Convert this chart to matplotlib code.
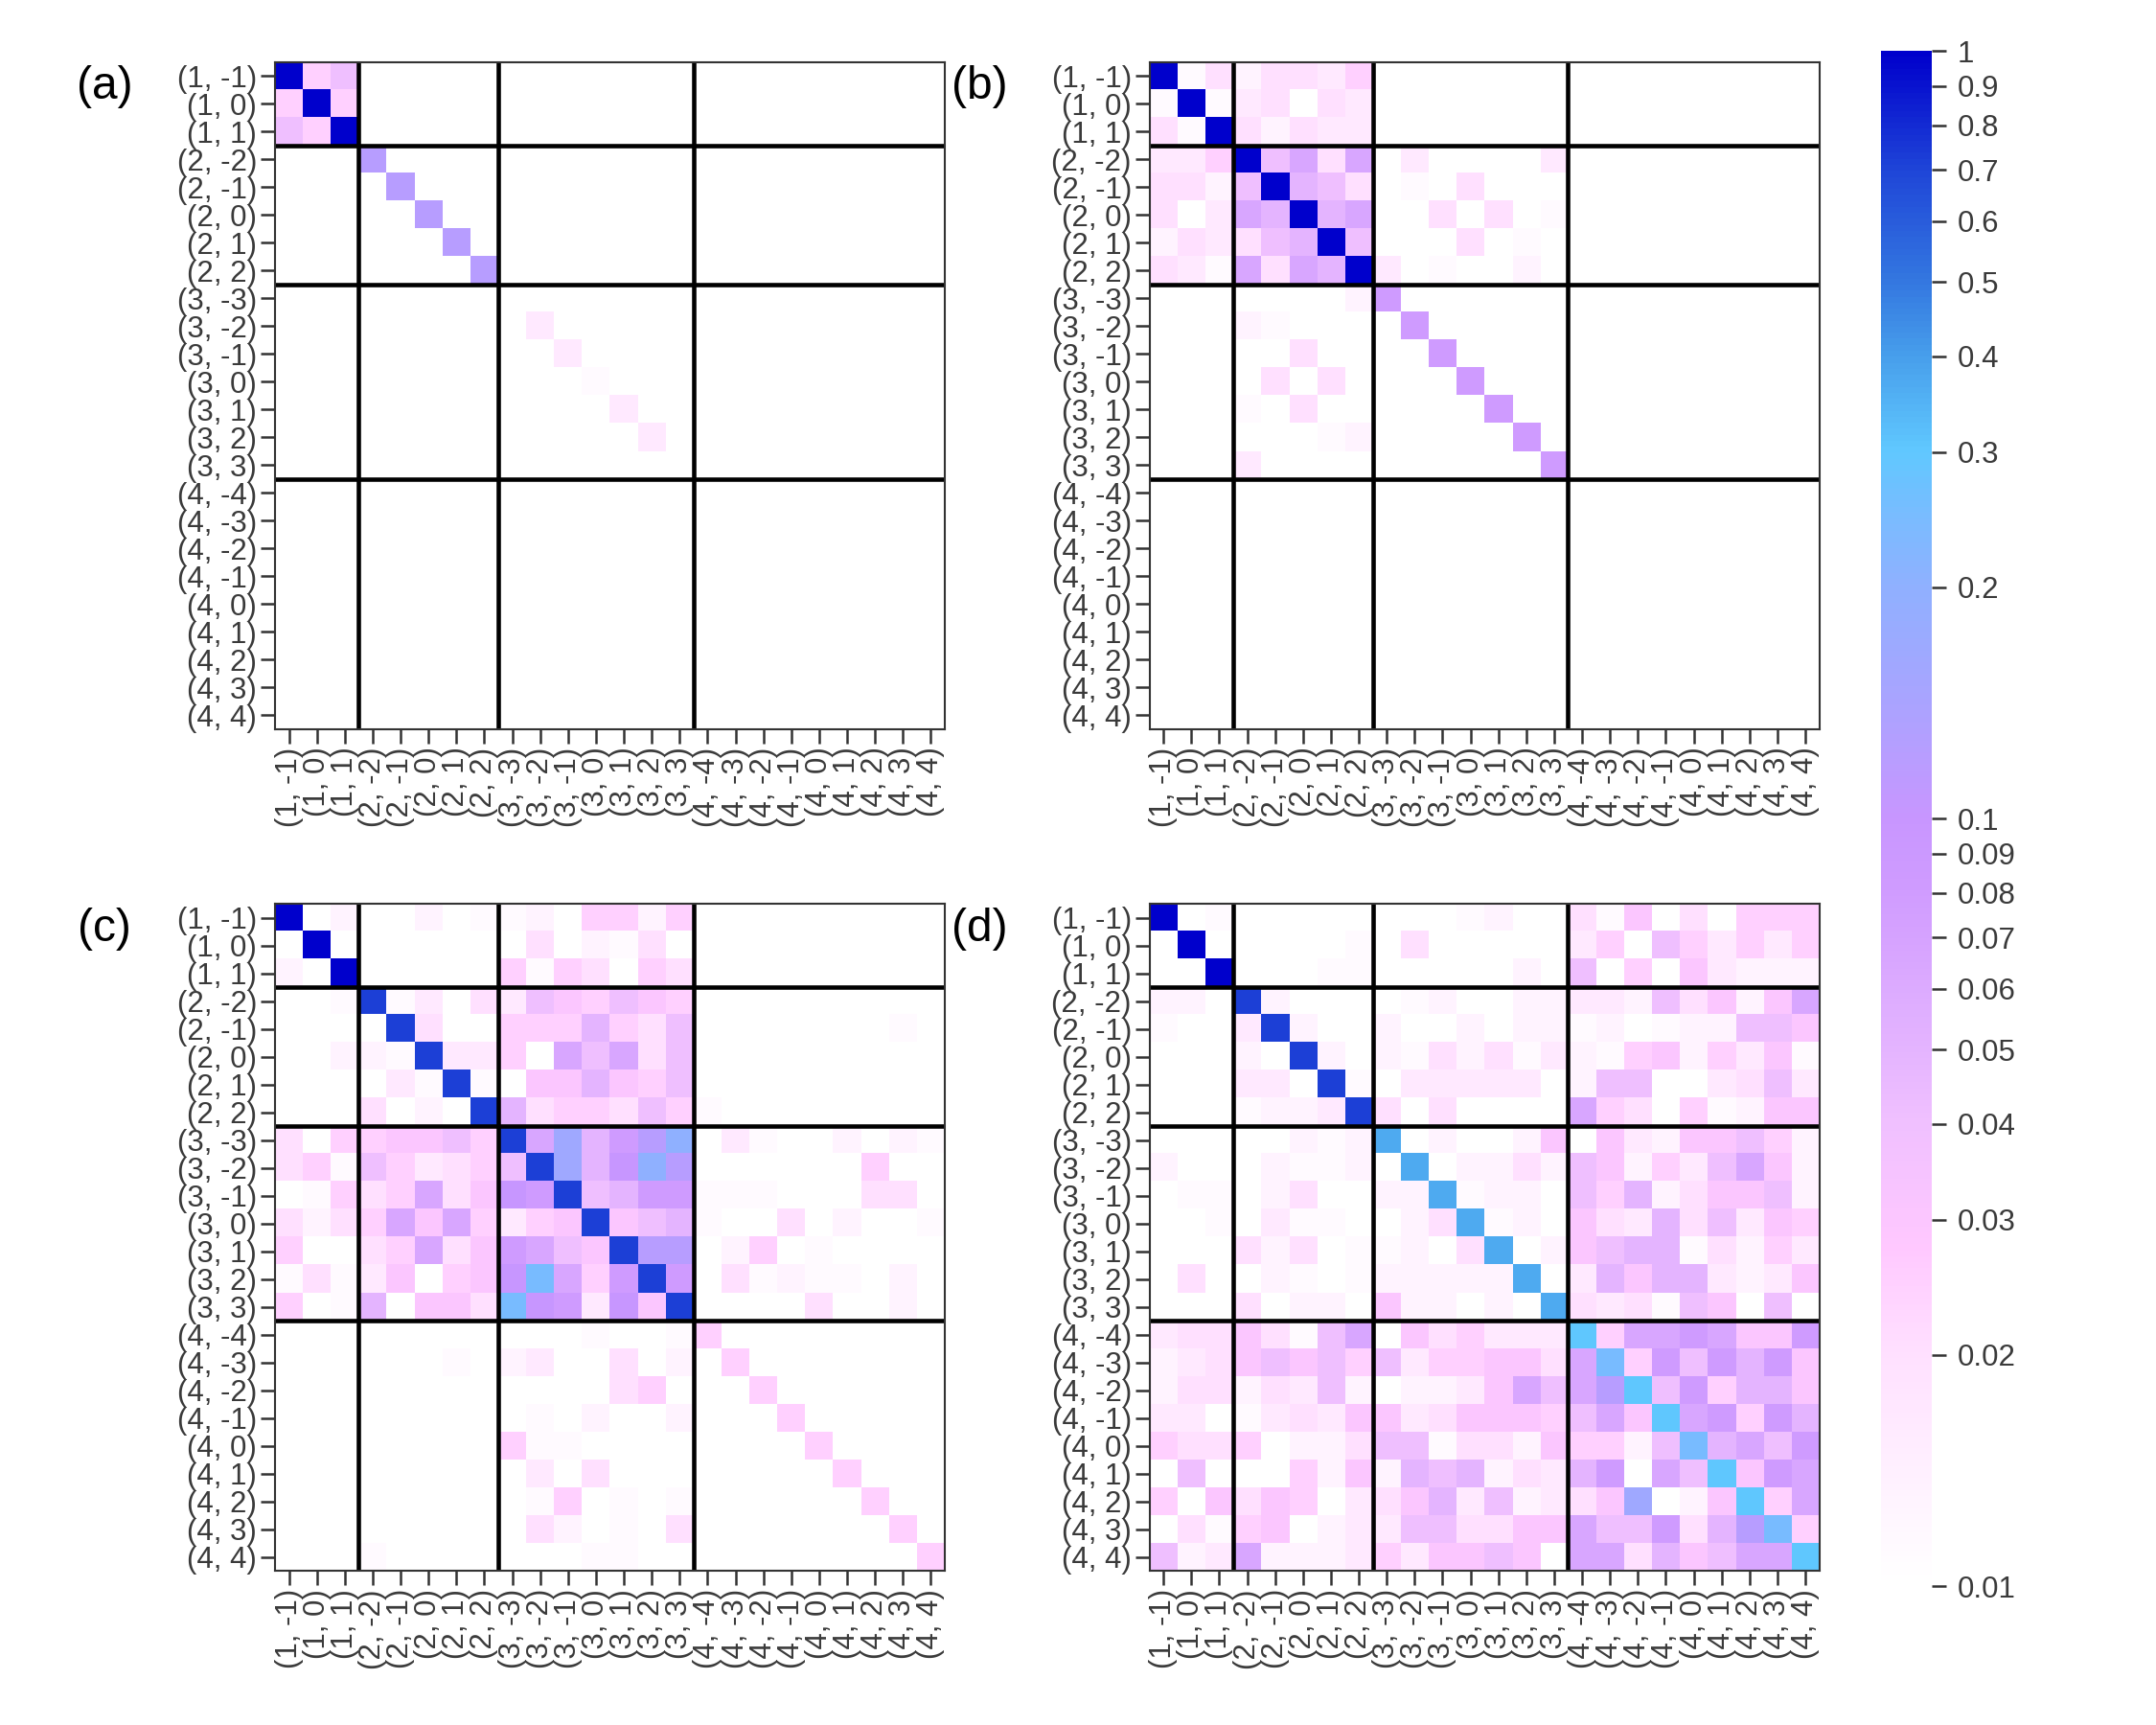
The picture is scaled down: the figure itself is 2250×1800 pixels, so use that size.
import numpy as np
import matplotlib
matplotlib.use("Agg")
import matplotlib.pyplot as plt
from matplotlib.colors import LinearSegmentedColormap, LogNorm

plt.rcParams['font.family'] = ['Liberation Sans', 'DejaVu Sans']

# (l, m) basis labels, same on both axes
labels = ["(1, -1)", "(1, 0)", "(1, 1)",
          "(2, -2)", "(2, -1)", "(2, 0)", "(2, 1)", "(2, 2)",
          "(3, -3)", "(3, -2)", "(3, -1)", "(3, 0)", "(3, 1)", "(3, 2)", "(3, 3)",
          "(4, -4)", "(4, -3)", "(4, -2)", "(4, -1)", "(4, 0)", "(4, 1)", "(4, 2)", "(4, 3)", "(4, 4)"]

# shade code -> value ('.' = below 0.01, left blank)
shade = {'.': 0.0, '0': 0.011, '1': 0.013, '2': 0.016, '3': 0.02, '4': 0.025,
         '5': 0.03, '6': 0.04, '7': 0.05, '8': 0.065, '9': 0.08, 'a': 0.1,
         'b': 0.12, 'c': 0.16, 'd': 0.2, 'e': 0.25, 'E': 0.3, 'f': 0.37,
         'g': 0.5, 'h': 0.72, 'j': 1.0}

blank = "... ..... ....... ........."

panel_a = [
    "j46 ..... ....... .........",
    "4j4 ..... ....... .........",
    "64j ..... ....... .........",
    "... b.... ....... .........",
    "... .b... ....... .........",
    "... ..b.. ....... .........",
    "... ...b. ....... .........",
    "... ....b ....... .........",
    "... ..... ....... .........",
    "... ..... .2..... .........",
    "... ..... ..2.... .........",
    "... ..... ...0... .........",
    "... ..... ....2.. .........",
    "... ..... .....2. .........",
    blank, blank, blank, blank, blank, blank, blank, blank, blank, blank,
]

panel_b = [
    "j03 13324 ....... .........",
    "0j0 23.32 ....... .........",
    "30j 31322 ....... .........",
    "224 j6838 .2....2 .........",
    "331 6j763 .0.3... .........",
    "3.2 87j78 ..3.3.0 .........",
    "132 367j6 ...3.0. .........",
    "320 8387j 2.0..1. .........",
    "... ....1 9...... .........",
    "... 10... .9..... .........",
    "... ..3.. ..9.... .........",
    "... .3.3. ...9... .........",
    "... 0.3.. ....9.. .........",
    "... ...01 .....9. .........",
    "... 2.... ......9 .........",
    blank, blank, blank, blank, blank, blank, blank, blank, blank,
]

panel_c = [
    "j.1 ..1.0 01.4414 .........",
    ".j. ..... .3.103. .........",
    "1.j ..... 4043.43 .........",
    "..0 h02.3 2654654 .........",
    "... .h3.. 4447436 .......0.",
    "..1 10h22 4.86836 .........",
    "... .20h0 .557546 .........",
    "... 3.1.h 7344364 0........",
    "3.4 45564 h8c79bd .20..1.10",
    "340 64234 6hc7adb ......4..",
    ".04 34835 a9h6799 000...33.",
    "313 48584 245h567 0..3.1..0",
    "4.. 34835 9865hbb .14.0....",
    "030 25.45 ae849h9 .30100.1.",
    "4.0 7.553 ea92a5h ....3..1.",
    "... ..... ...0..0 4........",
    "... ...0. 12..3.1 .4.......",
    "... ..... ....34. ..4......",
    "... ..... .0.1..1 ...4.....",
    "... ..... 400.... ....4....",
    "... ..... .2.3... .....4...",
    "... ..... .04.0.0 ......4..",
    "... ..... .31.0.3 .......4.",
    "... 0.... ...00.. ........4",
]

panel_d = [
    "j.0 ..... ...01.. 305.3.444",
    ".j. ....0 .3..... 24.642424",
    "..j ...00 .....1. 6.4.52111",
    "11. h1... .01..11 221635158",
    "0.. 2h1.. 1..1.11 01.011665",
    "... 1.h1. 1031302 104514250",
    "... 22.h0 .22222. 166..2362",
    "... 0112h 3.3.... 843.40155",
    "... ..101 f.1..15 .52155641",
    "1.. .1001 .f.1131 651426851",
    ".00 .13.. 11f011. 647135561",
    "..0 .200. .13f01. 532736254",
    "... 313.0 01.3f.1 567703142",
    ".3. .10.0 11111f. 275772125",
    "... 3.11. 511.1.f 323065.6.",
    "233 53068 .534222 E48898559",
    "123 56564 6244553 8e4969795",
    "133 13261 .112586 8bE694775",
    "22. 02325 5235554 685E89497",
    "433 4.113 6603315 4416e7869",
    ".6. ..415 1767132 79.86E598",
    "4.5 354.2 3572612 35c.15E48",
    ".30 45.12 2663355 866937be4",
    "612 81112 425565. 88375688E",
]

panels = [("(a)", panel_a), ("(b)", panel_b), ("(c)", panel_c), ("(d)", panel_d)]
block_edges = [2.5, 7.5, 14.5]

cbar_ticks = [0.01, 0.02, 0.03, 0.04, 0.05, 0.06, 0.07, 0.08, 0.09,
              0.1, 0.2, 0.3, 0.4, 0.5, 0.6, 0.7, 0.8, 0.9, 1]
cbar_labels = ["0.01", "0.02", "0.03", "0.04", "0.05", "0.06", "0.07", "0.08", "0.09",
               "0.1", "0.2", "0.3", "0.4", "0.5", "0.6", "0.7", "0.8", "0.9", "1"]

# white -> pink -> purple -> light blue -> dark blue along the log axis
cmap = LinearSegmentedColormap.from_list("wpb", [
    (0.00, "#ffffff"), (0.15, "#ffe0ff"), (0.22, "#ffc8ff"), (0.30, "#f0c0ff"),
    (0.35, "#e4b4ff"), (0.45, "#d09cff"), (0.50, "#c896ff"), (0.58, "#a8a4ff"),
    (0.65, "#90b0ff"), (0.70, "#78bcff"), (0.74, "#60c8ff"), (0.80, "#48a0ec"),
    (0.85, "#3478e0"), (0.92, "#2048d8"), (1.00, "#0000cc")])
cmap.set_bad("white")
cmap.set_under("white")
norm = LogNorm(vmin=0.01, vmax=1)

fig = plt.figure(figsize=(15, 12), dpi=150)

lefts = [0.1276, 0.5332, 0.1276, 0.5332]
bottoms = [0.5774, 0.5774, 0.0893, 0.0893]
w, h = 0.3106, 0.3867

txt_col = "#3a3a3a"
for i, (tag, rows) in enumerate(panels):
    mat = np.array([[shade[ch] for ch in r.replace(" ", "")] for r in rows])
    mat = np.ma.masked_where(mat <= 0, mat)
    ax = fig.add_axes([lefts[i], bottoms[i], w, h])
    im = ax.imshow(mat, cmap=cmap, norm=norm, aspect="auto", interpolation="nearest")
    for b in block_edges:
        ax.axhline(b, color="black", lw=2.2)
        ax.axvline(b, color="black", lw=2.2)
    ax.set_xticks(range(len(labels)))
    ax.set_xticklabels(labels, rotation=90)
    ax.set_yticks(range(len(labels)))
    ax.set_yticklabels(labels)
    ax.tick_params(length=7, width=1.2, color="#333333", labelsize=15,
                   labelcolor=txt_col, pad=2)
    for s in ax.spines.values():
        s.set_linewidth(1.0)
        s.set_color("#333333")
    fig.text(lefts[i] - 0.079, bottoms[i] + h - 0.0145, tag, fontsize=23,
             ha="center", va="center")

cax = fig.add_axes([0.8724, 0.0805, 0.0236, 0.89])
cb = fig.colorbar(im, cax=cax)
cb.ax.minorticks_off()
cb.set_ticks(cbar_ticks, labels=cbar_labels)
cb.ax.tick_params(length=7, width=1.2, color="#333333", labelsize=15,
                  labelcolor=txt_col, pad=6)
cb.outline.set_visible(False)

fig.savefig("out.png", dpi=150)
